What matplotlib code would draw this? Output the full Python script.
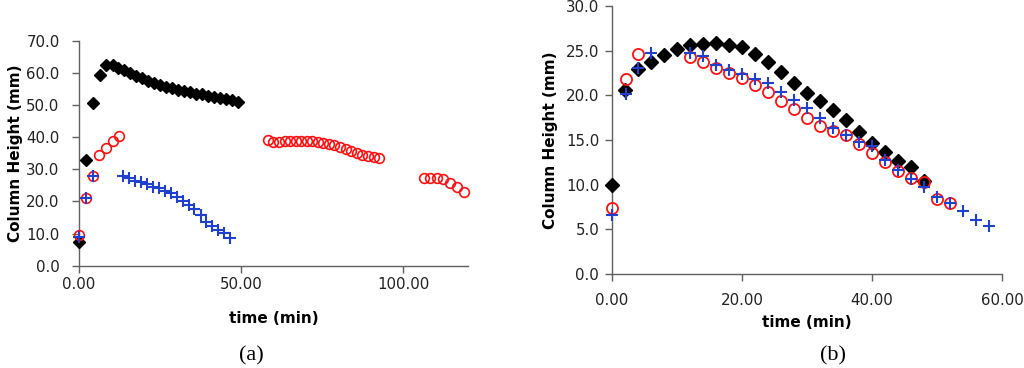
import matplotlib
matplotlib.use("Agg")
import matplotlib.pyplot as plt
from matplotlib.ticker import FormatStrFormatter

# ---------------- panel (a) ----------------
a_black_t = [0.0, 2.2, 4.2, 6.5, 8.3, 10.4, 12.1, 13.9, 15.8, 17.6, 19.5, 21.3, 23.2,
             25.0, 26.8, 28.7, 30.5, 32.4, 34.2, 36.1, 37.9, 39.7, 41.6, 43.4, 45.3,
             47.1, 48.9]
a_black_h = [7.5, 32.9, 50.5, 59.3, 62.4, 62.4, 61.6, 60.9, 59.9, 59.1, 58.3, 57.5, 56.8,
             56.2, 55.7, 55.2, 54.8, 54.4, 54.0, 53.6, 53.3, 52.9, 52.6, 52.2, 51.9,
             51.5, 51.0]

a_red_t = [0.1, 2.2, 4.2, 6.3, 8.3, 10.4, 12.2,
           58.2, 59.9, 61.6, 63.4, 65.1, 66.8, 68.5, 70.2, 72.0, 73.7, 75.4, 77.1,
           78.8, 80.6, 82.3, 84.0, 85.7, 87.4, 89.2, 90.9, 92.6,
           106.3, 108.3, 110.4, 112.4, 114.5, 116.5, 118.6]
a_red_h = [9.5, 21.2, 27.9, 34.4, 36.5, 38.9, 40.3,
           39.1, 38.6, 38.6, 38.7, 38.8, 38.9, 38.9, 38.8, 38.8, 38.6, 38.3, 38.0,
           37.5, 36.9, 36.3, 35.7, 35.0, 34.5, 34.2, 33.9, 33.6,
           27.2, 27.4, 27.4, 26.9, 25.6, 24.6, 23.0]

a_blue_t = [0.1, 2.2, 4.2,
            13.7, 15.5, 17.3, 19.2, 21.0, 22.8, 24.7, 26.5, 28.3, 30.2, 32.0, 33.8,
            35.6, 37.5, 39.3, 41.1, 43.0, 44.8, 46.6]
a_blue_h = [8.8, 21.2, 27.9,
            28.0, 27.4, 26.3, 26.0, 25.5, 24.6, 24.1, 23.3, 22.5, 21.5, 20.0, 18.9,
            17.8, 15.8, 13.7, 12.4, 11.1, 10.2, 8.6]

# ---------------- panel (b) ----------------
b_black_t = [0, 2, 4, 6, 8, 10, 12, 14, 16, 18, 20, 22, 24, 26, 28, 30, 32, 34, 36,
             38, 40, 42, 44, 46, 48]
b_black_h = [10.0, 20.6, 23.0, 23.7, 24.5, 25.2, 25.6, 25.8, 25.9, 25.7, 25.4, 24.6,
             23.7, 22.6, 21.4, 20.3, 19.4, 18.4, 17.2, 15.9, 14.7, 13.7, 12.65, 12.0, 10.4]

b_red_t = [0, 2.2, 4, 12, 14, 16, 18, 20, 22, 24, 26, 28, 30, 32, 34, 36, 38, 40, 42,
           44, 46, 48, 50, 52]
b_red_h = [7.4, 21.8, 24.6, 24.3, 23.7, 23.1, 22.5, 22.0, 21.2, 20.4, 19.4, 18.5, 17.5,
           16.6, 16.0, 15.6, 14.6, 13.6, 12.5, 11.5, 10.8, 10.3, 8.4, 8.0]

b_blue_t = [0, 2.2, 4, 6, 12, 14, 16, 18, 20, 22, 24, 26, 28, 30, 32, 34, 36, 38, 40,
            42, 44, 46, 48, 50, 52, 54, 56, 58]
b_blue_h = [6.6, 20.2, 23.1, 24.7, 24.8, 24.4, 23.4, 22.9, 22.4, 21.8, 21.35, 20.4,
            19.5, 18.55, 17.5, 16.3, 15.6, 14.8, 14.3, 12.8, 11.6, 10.6, 9.7, 8.65,
            8.0, 7.1, 6.0, 5.4]

RED = "#ff1010"
BLUE = "#2040d0"
AXC = "#606060"


def style_ax(ax, xlim, xticks, ylim, yticks, xpad, ypad, xlpad, ylpad):
    ax.set_xlim(*xlim)
    ax.set_ylim(*ylim)
    ax.set_xticks(xticks)
    ax.set_yticks(yticks)
    ax.xaxis.set_major_formatter(FormatStrFormatter("%.2f"))
    ax.yaxis.set_major_formatter(FormatStrFormatter("%.1f"))
    for s in ("top", "right"):
        ax.spines[s].set_visible(False)
    for s in ("left", "bottom"):
        ax.spines[s].set_color(AXC)
        ax.spines[s].set_linewidth(1.0)
    ax.tick_params(direction="out", length=5, width=1.0, color=AXC,
                   labelsize=10.8, labelcolor="#222222")
    ax.tick_params(axis="x", pad=xpad)
    ax.tick_params(axis="y", pad=ypad)
    ax.set_xlabel("time (min)", fontsize=11, fontweight="bold", labelpad=xlpad)
    ax.set_ylabel("Column Height (mm)", fontsize=11, fontweight="bold", labelpad=ylpad)


fig = plt.figure(figsize=(10.24, 3.68), dpi=100)

ax1 = fig.add_axes([0.0771, 0.278, 0.380, 0.611])
ax1.plot(a_black_t, a_black_h, "D", color="black", markersize=6.5, linestyle="none",
         zorder=3, clip_on=False)
ax1.plot(a_red_t, a_red_h, "o", mfc="none", mec=RED, mew=1.2, markersize=7,
         linestyle="none", zorder=4, clip_on=False)
ax1.plot(a_blue_t, a_blue_h, "+", color=BLUE, mew=1.5, markersize=8, linestyle="none",
         zorder=5, clip_on=False)
style_ax(ax1, (0, 120), [0, 50, 100], (0, 70), range(0, 71, 10),
         xpad=3, ypad=9, xlpad=14, ylpad=2)

ax2 = fig.add_axes([0.5974, 0.2554, 0.3814, 0.728])
ax2.plot(b_black_t, b_black_h, "D", color="black", markersize=7, linestyle="none",
         zorder=3, clip_on=False)
ax2.plot(b_red_t, b_red_h, "o", mfc="none", mec=RED, mew=1.3, markersize=8,
         linestyle="none", zorder=4, clip_on=False)
ax2.plot(b_blue_t, b_blue_h, "+", color=BLUE, mew=1.5, markersize=9, linestyle="none",
         zorder=5, clip_on=False)
style_ax(ax2, (0, 60), [0, 20, 40, 60], (0, 30), [0, 5, 10, 15, 20, 25, 30],
         xpad=9, ypad=4, xlpad=5, ylpad=6)

fig.text(0.245, 0.02, "(a)", fontsize=16, family="Liberation Serif", ha="center")
fig.text(0.813, 0.02, "(b)", fontsize=16, family="Liberation Serif", ha="center")

fig.savefig("out.png", dpi=100)
